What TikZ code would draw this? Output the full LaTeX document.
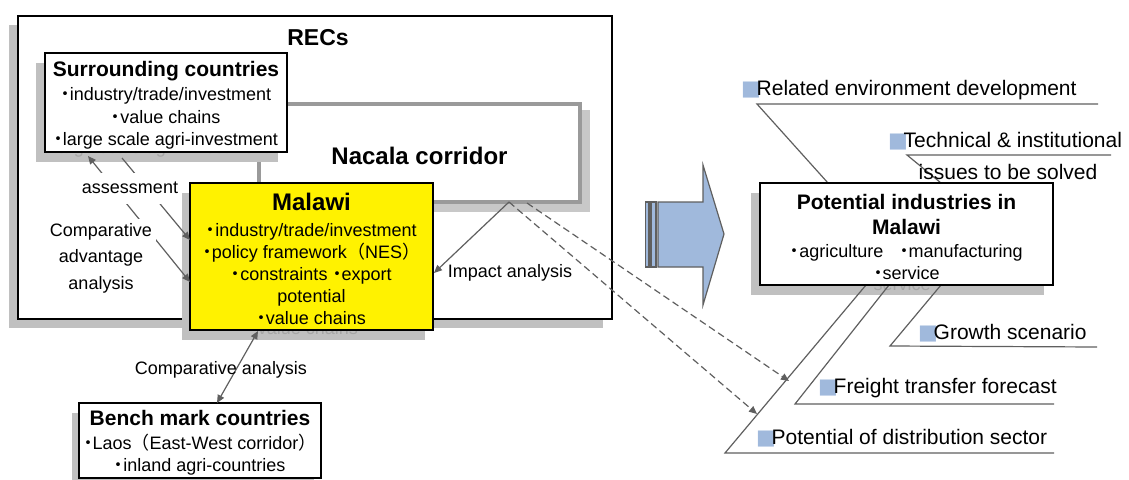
\documentclass[tikz,border=0pt]{standalone}
\usepackage{fontspec}
\setmainfont{Liberation Sans}
\newfontfamily\cjk{Noto Sans CJK JP}
\newfontfamily\dvs{DejaVu Sans}
\usetikzlibrary{arrows.meta}

\definecolor{shade}{HTML}{C0C0C0}
\definecolor{ghost}{HTML}{A6A6A6}
\definecolor{conn}{HTML}{5F5F5F}
\definecolor{steel}{HTML}{A0B9DC}
\definecolor{corr}{HTML}{9A9A9A}
\definecolor{corrsh}{HTML}{C8C8C8}

\newcommand\fs[2]{\fontsize{#1}{#2}\selectfont}
\newcommand\bul{\makebox[0.5em]{\cjk ・}}
\newcommand\sq{\makebox[14pt][l]{\textcolor{steel}{\dvs\fs{21}{21}■}}\hspace{1.5pt}}
\newcommand\ttl[1]{{\bfseries\fs{21}{24}#1}}

\tikzset{
  box/.style={draw=black, line width=1.5pt, fill=white, inner sep=0pt},
  shbox/.style={fill=shade, inner sep=0pt},
  txt/.style={inner sep=0pt, align=center, font=\fs{18}{22.5}},
  ghosttxt/.style={txt, text=ghost},
  link/.style={draw=conn, line width=1.2pt},
  oneway/.style={link, -{Triangle[length=8pt,width=7pt]}},
  twoway/.style={link, {Triangle[length=8pt,width=7pt]}-{Triangle[length=8pt,width=7pt]}},
  dasharrow/.style={oneway, dash pattern=on 7pt off 4pt},
  lbl/.style={inner sep=2pt, align=center, font=\fs{18}{22.5}},
  bonelbl/.style={anchor=west, inner sep=0pt, font=\fs{21}{25}},
}

\begin{document}
\begin{tikzpicture}[x=1pt, y=-1pt]
\useasboundingbox (0,0) rectangle (1129,479);

% --- RECs frame ---
\node[shbox, minimum width=594pt, minimum height=303pt] (recs-sh) at (306,176.5) {};
\node[box, minimum width=594pt, minimum height=303pt] (recs) at (315,167.5) {};
\node[font=\bfseries\fs{23}{26}, inner sep=0pt] (recs-title) at (318,38) {RECs};

% --- Nacala corridor ---
\node[fill=corrsh, minimum width=325pt, minimum height=102pt, inner sep=0pt] (nac-sh) at (427.5,161) {};
\node[draw=corr, line width=4pt, fill=white, minimum width=321pt, minimum height=98pt,
  inner sep=0pt] (nac) at (419.5,153) {};
\node[inner sep=0pt, font=\bfseries\fs{24}{28}] (nac-txt) at (419.5,156) {Nacala corridor};

% --- Surrounding countries ---
\node[shbox, minimum width=242pt, minimum height=99pt] (sur-sh) at (157,112.5) {};
\node[ghosttxt] (sur-gh) at (157,149) {\bul large scale agri-investment};
\node[box, minimum width=242pt, minimum height=99pt] (sur) at (166,102.5) {};
\node[txt] (sur-txt) at (166,105.5)
  {\ttl{Surrounding countries}\\[1.5pt] \bul industry/trade/investment\\ \bul value chains\\ \bul large scale agri-investment};

% --- Malawi ---
\node[shbox, minimum width=243pt, minimum height=147pt] (mal-sh) at (303.5,266.5) {};
\node[ghosttxt] (mal-gh) at (303.5,328) {\bul value chains};
\node[box, fill=yellow, minimum width=243pt, minimum height=147pt] (mal) at (311.5,256.5) {};
\node[txt, font=\fs{18}{22}] (mal-txt) at (311.5,259)
  {{\bfseries\fs{24}{26}Malawi}\\[3.5pt] \bul industry/trade/investment\\ \bul policy framework{\cjk （}NES{\cjk ）}\\ \bul constraints \bul export\\ potential\\ \bul value chains};

% --- analysis links inside RECs ---
\coordinate (sur-a) at (88,156);
\coordinate (sur-b) at (122,158);
\coordinate (mal-a) at (190,282);
\coordinate (mal-b) at (190,240);
\draw[twoway] (mal-a) -- (sur-a);
\draw[oneway] (sur-b) -- (mal-b);
\node[lbl, fill=white, minimum height=31pt] (assess) at (130,188) {assessment};
\node[lbl, fill=white, inner sep=4pt, font=\fs{18}{26.5}] (cadv) at (101,258) {Comparative\\advantage\\analysis};

% --- impact of the corridor ---
\coordinate (nac-a) at (509,202);
\coordinate (nac-b) at (527,203);
\coordinate (mal-c) at (434,273);
\draw[oneway] (nac-a) -- (mal-c);
\node[lbl] (impact) at (510,273) {Impact analysis};

% --- Bench mark countries ---
\node[shbox, minimum width=242pt, minimum height=75pt] (ben-sh) at (193,450) {};
\node[box, minimum width=242pt, minimum height=75pt] (ben) at (200,440.5) {};
\node[txt] (ben-txt) at (200,443)
  {\ttl{Bench mark countries}\\[1pt] \bul Laos{\cjk （}East-West corridor{\cjk ）}\\ \bul inland agri-countries};
\coordinate (mal-d) at (258,331);
\coordinate (ben-a) at (217,403);
\draw[twoway] (ben-a) -- (mal-d);
\node[lbl, inner sep=0pt] (cmp) at (221,370) {Comparative analysis};

% --- block arrow ---
\draw[draw=conn, line width=1.2pt, fill=steel]
  (658,202) -- (703,202) -- (703,165) -- (724,234) -- (703,305) -- (703,267) -- (658,267) -- cycle;
\draw[draw=conn, line width=1.2pt, fill=steel] (645.5,202) rectangle (649,267);
\draw[draw=conn, line width=1.2pt, fill=steel] (651,202) rectangle (656,267);

% --- Potential industries and its branches ---
\node[shbox, minimum width=293pt, minimum height=102pt] (pot-sh) at (897.5,244) {};
\node[ghosttxt] (pot-gh) at (897.5,284) {\bul service};

\coordinate (b1) at (757,104);   \coordinate (b1e) at (1098,104);
\coordinate (b2) at (907,155);   \coordinate (b2e) at (1111,155);
\coordinate (b3) at (890,346);   \coordinate (b3e) at (1097,347);
\coordinate (b4) at (795,404);   \coordinate (b4e) at (1054,404);
\coordinate (b5) at (725,453);   \coordinate (b5e) at (1054,453);
\coordinate (p1) at (828,183);   \coordinate (p2) at (941,183);
\coordinate (p3) at (941,285);   \coordinate (p4) at (889,285);
\coordinate (p5) at (866,285);
\draw[link] (b1e) -- (b1) -- (p1);
\draw[link] (b2e) -- (b2) -- (p2);
\draw[link] (b3e) -- (b3) -- (p3);
\draw[link] (b4e) -- (b4) -- (p4);
\draw[link] (b5e) -- (b5) -- (p5);

\node[box, minimum width=293pt, minimum height=102pt] (pot) at (906.5,234) {};
\node[txt] (pot-txt) at (906.5,237)
  {\ttl{Potential industries in}\\[3pt]\ttl{Malawi}\\ \bul agriculture\hspace{0.9em}\bul manufacturing\\ \bul service};

\node[bonelbl] (l1) at (741,90) {\sq Related environment development};
\node[bonelbl] (l2) at (888,141) {\sq Technical \& institutional};
\node[inner sep=0pt, font=\fs{21}{25}] (l2b) at (1008,172) {issues to be solved};
\node[bonelbl] (l3) at (918,333) {\sq Growth scenario};
\node[bonelbl] (l4) at (818,388) {\sq Freight transfer forecast};
\node[bonelbl] (l5) at (756,438) {\sq Potential of distribution sector};

% --- dashed links from the corridor ---
\coordinate (f1) at (757,414);
\coordinate (f2) at (789,381);
\draw[dasharrow] (nac-a) -- (f1);
\draw[dasharrow] (nac-b) -- (f2);
\end{tikzpicture}
\end{document}
